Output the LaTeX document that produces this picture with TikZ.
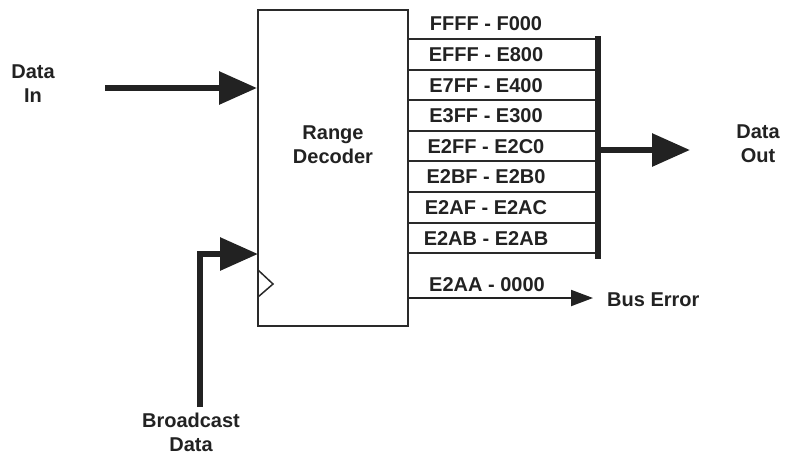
\documentclass[tikz,border=0pt]{standalone}
\usepackage{fontspec}
\setmainfont{Liberation Sans}
\usepackage{tikz}
\usetikzlibrary{
  arrows.meta,
  positioning,
  calc
}
\definecolor{rdInk}{HTML}{222222}
\definecolor{rdLine}{HTML}{2A2A2A}
\tikzset{
  rdtext/.style={font=\fontsize{20}{24}\selectfont\bfseries, align=center, inner sep=0pt, text=rdInk},
  decoder/.style={draw=rdLine, line width=2pt, minimum width=150pt, minimum height=316pt, inner sep=0pt},
  busline/.style={draw=rdLine, line width=2pt},
  busbar/.style={draw=rdInk, line width=6pt},
  bigarrow/.style={-{Triangle[length=38pt, width=32pt]}, line width=6pt, rdInk},
  smallarrow/.style={-{Triangle[length=22pt, width=16pt]}, line width=2pt, rdInk},
  clocktick/.style={draw=rdLine, line width=1.5pt}
}
\begin{document}
\begin{tikzpicture}[x=1pt, y=-1pt]
  \useasboundingbox (0,0) rectangle (797,456);
  % decoder block
  \node[decoder] (dec) at (333,168) {};
  \node[rdtext] (declbl) at (333,145) {Range\\Decoder};
  \draw[clocktick] (258,270) -- (273,284) -- (258,297);

  % inputs
  \node[rdtext] (datain) at (33,84) {Data\\In};
  \coordinate (inStart) at (105,88);
  \draw[bigarrow] (inStart) -- (dec.west |- inStart);

  \node[rdtext] (bcast) at (191,432) {Broadcast\\Data};
  \coordinate (bcStart) at (200,407);
  \coordinate (bcIn) at (258,254);
  \draw[bigarrow] (bcStart) |- (bcIn);

  % address ranges
  \foreach \rng [count=\i from 0] in {FFFF - F000, EFFF - E800, E7FF - E400, E3FF - E300,
      E2FF - E2C0, E2BF - E2B0, E2AF - E2AC, E2AB - E2AB} {
    \pgfmathsetmacro{\ly}{39+30.6*\i}
    \node[rdtext] (rng\i) at (486,\ly-15) {\rng};
    \coordinate (tap\i) at (597,\ly);
    \draw[busline] (dec.east |- tap\i) -- (tap\i);
  }
  \draw[busbar] (598,36) -- (598,259);

  \coordinate (outStart) at (598,150);
  \coordinate (outEnd) at (690,150);
  \draw[bigarrow] (outStart) -- (outEnd);
  \node[rdtext] (dataout) at (758,144) {Data\\Out};

  % bus error
  \node[rdtext] (rngerr) at (487,285) {E2AA - 0000};
  \node[rdtext, anchor=west] (buserr) at (607,300) {Bus Error};
  \coordinate (errEnd) at (593,298);
  \draw[smallarrow] (dec.east |- errEnd) -- (errEnd);
\end{tikzpicture}
\end{document}
